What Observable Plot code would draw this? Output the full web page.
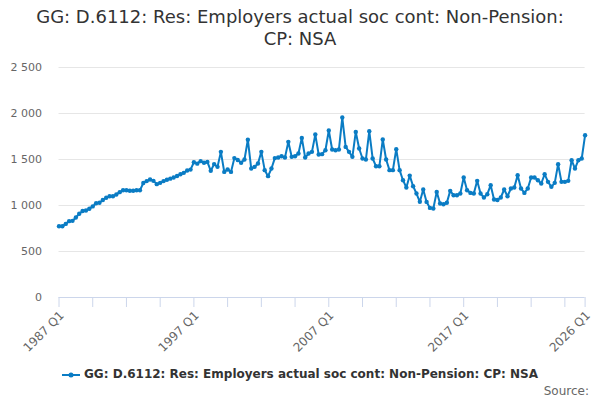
<!DOCTYPE html>
<html>
<head>
<meta charset="utf-8">
<script src="https://cdn.jsdelivr.net/npm/d3@7"></script>
<script src="https://cdn.jsdelivr.net/npm/@observablehq/plot@0.6"></script>
<style>
  body { margin: 0; background: #fff; }
  #wrap { position: relative; width: 600px; height: 400px; font-family: "DejaVu Sans", sans-serif; overflow: hidden; }
  #title { position: absolute; top: 6px; left: 0; width: 600px; text-align: center; font-size: 18px; line-height: 22px; color: #333; }
  #chart { position: absolute; top: 50px; left: 0; }
  #legend { position: absolute; top: 367px; left: 0; width: 600px; text-align: center; font-size: 12px; font-weight: bold; color: #333; }
  #legend svg { vertical-align: middle; margin-right: 4px; }
  #source { position: absolute; top: 384px; right: 11px; font-size: 12px; color: #666; }
</style>
</head>
<body>
<div id="wrap">
  <div id="title">GG: D.6112: Res: Employers actual soc cont: Non-Pension:<br>CP: NSA</div>
  <div id="chart"></div>
  <div id="legend"><svg width="18" height="10"><line x1="0" y1="5" x2="18" y2="5" stroke="#0a7cc4" stroke-width="2"/><circle cx="9" cy="5" r="2.5" fill="#0a7cc4"/></svg>GG: D.6112: Res: Employers actual soc cont: Non-Pension: CP: NSA</div>
  <div id="source">Source:</div>
</div>
<script>
const seriesName = "GG: D.6112: Res: Employers actual soc cont: Non-Pension: CP: NSA";
const startYear = 1987;
const values = [
  775, 775, 800, 830, 833, 870, 910, 940, 945, 965,
  990, 1025, 1030, 1060, 1085, 1100, 1100, 1120, 1145, 1165,
  1165, 1160, 1160, 1165, 1165, 1245, 1265, 1282, 1268, 1232,
  1246, 1265, 1280, 1292, 1305, 1320, 1340, 1355, 1380, 1390,
  1470, 1455, 1482, 1464, 1474, 1377, 1450, 1420, 1583, 1365,
  1391, 1365, 1515, 1494, 1465, 1500, 1715, 1402, 1420, 1456,
  1583, 1384, 1319, 1402, 1515, 1521, 1536, 1521, 1692, 1529,
  1536, 1565, 1735, 1521, 1565, 1583, 1771, 1554, 1558, 1601,
  1815, 1609, 1601, 1609, 1956, 1637, 1583, 1529, 1800, 1620,
  1511, 1500, 1808, 1511, 1427, 1427, 1717, 1500, 1384, 1384,
  1612, 1384, 1275, 1196, 1325, 1210, 1130, 1040, 1174, 1039,
  974, 967, 1148, 1022, 1014, 1030, 1159, 1112, 1112, 1130,
  1304, 1166, 1137, 1130, 1268, 1130, 1087, 1123, 1221, 1065,
  1060, 1087, 1174, 1101, 1185, 1196, 1329, 1185, 1137, 1185,
  1304, 1304, 1275, 1239, 1340, 1257, 1203, 1246, 1449, 1257,
  1257, 1268, 1492, 1402, 1492, 1511, 1764
];
const quarters = values.map((_, i) => `${startYear + Math.floor(i / 4)} Q${(i % 4) + 1}`);
const tickLabels = ["1987 Q1", "1997 Q1", "2007 Q1", "2017 Q1", "2026 Q1"];
const tickMarks = quarters.filter((q, i) => i % 10 === 0 || i === quarters.length - 1);
const yTicks = [0, 500, 1000, 1500, 2000, 2500];
const data = values.map((v, i) => ({q: quarters[i], v}));
const color = "#0a7cc4";

const chart = Plot.plot({
  width: 600,
  height: 305,
  marginTop: 17,
  marginBottom: 58,
  marginLeft: 58.5,
  marginRight: 15.4,
  style: {fontFamily: "DejaVu Sans, sans-serif", fontSize: "11px", color: "#666", background: "transparent", overflow: "visible"},
  x: {type: "point", domain: quarters, padding: 0},
  y: {domain: [0, 2500]},
  marks: [
    Plot.gridY({ticks: yTicks.slice(1), stroke: "#e6e6e6", strokeOpacity: 1}),
    Plot.axisY({ticks: yTicks, tickSize: 0, tickPadding: 17, label: null, fill: "#666",
      tickFormat: d => d3.format(",")(d).replace(/,/g, " ")}),
    Plot.ruleY([0], {stroke: "#ccd6eb"}),
    Plot.axisX({ticks: tickMarks, tickSize: 10, stroke: "#ccd6eb", strokeOpacity: 1, tickFormat: () => "", label: null}),
    Plot.axisX({ticks: tickLabels, tickSize: 0, tickPadding: 16, tickRotate: -45, fill: "#666", fontSize: 12, dx: 3, label: null}),
    Plot.line(data, {x: "q", y: "v", stroke: color, strokeWidth: 2}),
    Plot.dot(data, {x: "q", y: "v", r: 2.2, fill: color, stroke: null})
  ]
});
document.getElementById("chart").appendChild(chart);
</script>
</body>
</html>
